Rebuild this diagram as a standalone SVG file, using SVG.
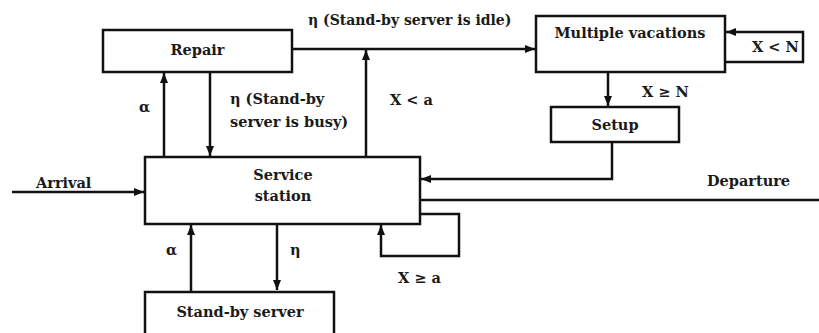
<svg xmlns="http://www.w3.org/2000/svg" width="819" height="333" viewBox="0 0 819 333">
<defs>
<marker id="ah" viewBox="0 0 10 8" refX="10" refY="4" markerWidth="10" markerHeight="8" markerUnits="userSpaceOnUse" orient="auto">
<path d="M0,0 L10,4 L0,8 Z" fill="#111"/>
</marker>
</defs>
<style>
.box{fill:#fff;stroke:#111;stroke-width:2.5}
.ln{fill:none;stroke:#111;stroke-width:2.5}
.ar{fill:none;stroke:#111;stroke-width:2.5;marker-end:url(#ah)}
text{font-family:"DejaVu Serif","Liberation Serif",serif;font-weight:bold;font-size:14.5px;fill:#1a1a1a}
.c{text-anchor:middle}
.s{font-size:14px}
</style>
<rect width="819" height="333" fill="#fff"/>
<g id="connectors">
<path class="ar" d="M164,157 V73"/>
<path class="ar" d="M210,72 V156"/>
<path class="ar" d="M366,157 V50"/>
<path class="ar" d="M292,49 H535"/>
<path class="ar" d="M725,62 H803 V32 H726"/>
<path class="ar" d="M608,72 V106"/>
<path class="ar" d="M612,142 V179 H421"/>
<path class="ln" d="M420,200 H819"/>
<path class="ar" d="M420,214 H459 V256 H381 V225"/>
<path class="ar" d="M12,192 H144"/>
<path class="ar" d="M191,291 V225"/>
<path class="ar" d="M277,224 V290"/>
</g>
<g id="repair"><rect class="box" x="103" y="30" width="189" height="42"/><text class="c" x="197.5" y="55">Repair</text></g>
<g id="multiple-vacations"><rect class="box" x="536" y="16" width="189" height="56"/><text class="c" x="630" y="38">Multiple vacations</text></g>
<g id="setup"><rect class="box" x="551" y="107" width="128" height="35"/><text class="c" x="615" y="130">Setup</text></g>
<g id="service-station"><rect class="box" x="145" y="157" width="275" height="67"/><text class="c" x="283" y="180">Service</text><text class="c" x="283" y="201">station</text></g>
<g id="standby-server"><rect class="box" x="145" y="292" width="189" height="44"/><text class="c" x="240" y="317">Stand-by server</text></g>
<g id="labels">
<text class="s" x="308" y="25">η (Stand-by server is idle)</text>
<text x="139" y="112">α</text>
<text x="230" y="104">η (Stand-by</text>
<text x="230" y="127">server is busy)</text>
<text x="390" y="105">X &lt; a</text>
<text x="752" y="52">X &lt; N</text>
<text x="642" y="97">X ≥ N</text>
<text x="36" y="188">Arrival</text>
<text x="707" y="186">Departure</text>
<text x="166" y="255">α</text>
<text x="290" y="255">η</text>
<text x="398" y="283">X ≥ a</text>
</g>
</svg>
